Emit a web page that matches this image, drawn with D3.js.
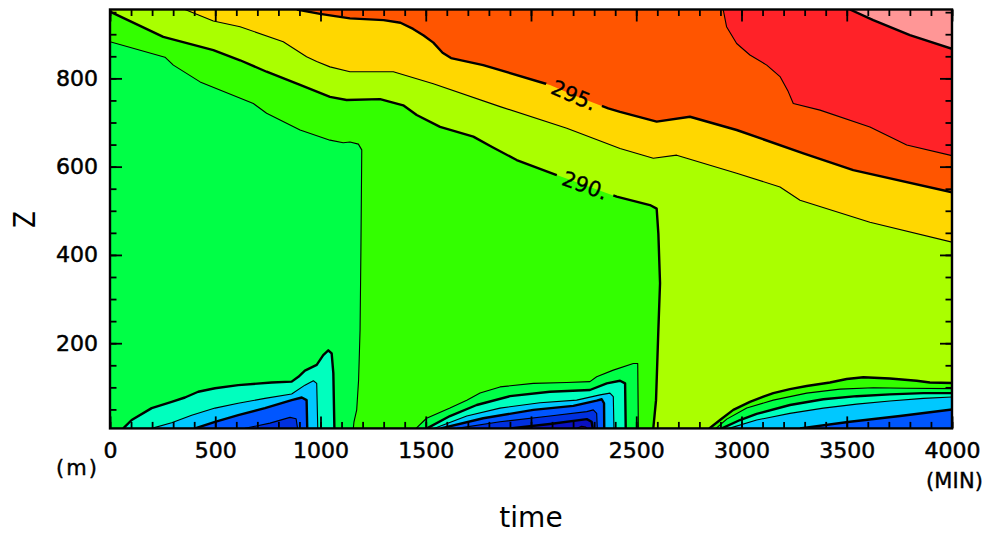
<!DOCTYPE html>
<html>
<head>
<meta charset="utf-8">
<script src="https://cdn.jsdelivr.net/npm/d3@7"></script>
<style>
  body { margin: 0; background: #fff; }
  svg { display: block; }
  text { font-family: "DejaVu Sans", sans-serif; fill: #000; }
</style>
</head>
<body>
<script>
// Potential temperature (K) time–height section, filled contours every 2.5 K.

// ---- axes ----
const TIME_DOMAIN = [0, 4000];          // minutes
const Z_DOMAIN = [7, 956];              // metres
const timeTicks = [0, 500, 1000, 1500, 2000, 2500, 3000, 3500, 4000];
const zTicks = [200, 400, 600, 800];

// ---- contour levels and fill colours (one colour per interval) ----
const levels = [272.5, 275, 277.5, 280, 282.5, 285, 287.5, 290, 292.5, 295, 297.5, 300];
const levelColors = [
  "#7a0096", // < 272.5
  "#0a10c0", // 272.5 - 275
  "#0030e0", // 275 - 277.5
  "#0056ff", // 277.5 - 280
  "#00c8ff", // 280 - 282.5
  "#00ffbe", // 282.5 - 285
  "#00ff46", // 285 - 287.5
  "#33ff00", // 287.5 - 290
  "#aaff00", // 290 - 292.5
  "#ffd700", // 292.5 - 295
  "#ff5500", // 295 - 297.5
  "#ff2228", // 297.5 - 300
  "#ff9696"  // > 300
];

// ---- isolines, [time (min), z (m)] ----
// warm stratification aloft
const theta2875 = [[0,883],[261,848],[301,830],[428,792],[681,743],[744,721],[903,683],[1045,660],[1108,654],[1140,656],[1180,651],[1196,638],[1192,411],[1188,230],[1181,117],[1172,49],[1159,22],[1156,7]];
const theta290 = [[0,951],[253,894],[491,864],[618,841],[744,815],[903,785],[1045,758],[1124,751],[1283,753],[1393,739],[1457,717],[1568,690],[1726,668],[1813,645],[1932,615],[2122,581],[2257,558],[2407,532],[2565,513],[2597,505],[2605,449],[2613,336],[2605,230],[2594,71],[2581,7]];
const theta2925 = [[356,956],[491,930],[618,917],[823,883],[934,849],[982,838],[1045,826],[1140,815],[1346,815],[1536,788],[1853,736],[2170,687],[2423,641],[2581,619],[2692,626],[2977,585],[3183,554],[3278,524],[3610,474],[4000,429]];
const theta295 = [[888,956],[998,946],[1140,936],[1300,932],[1380,926],[1440,912],[1490,897],[1536,881],[1580,858],[1620,846],[1773,830],[2090,785],[2204,762],[2367,732],[2423,724],[2597,702],[2755,713],[2977,683],[3294,630],[3531,592],[4000,542]];
const theta2975 = [[2913,956],[2929,917],[2977,879],[3040,853],[3120,830],[3183,804],[3222,770],[3246,743],[3373,728],[3610,690],[3785,649],[4000,625]];
const theta300 = [[3515,956],[3626,932],[3800,898],[4000,867]];

// first nocturnal cold pool
const pool1_285 = [[63,7],[103,26],[198,53],[293,67],[356,77],[419,90],[499,98],[609,105],[768,111],[863,113],[895,124],[926,138],[982,151],[1013,173],[1037,184],[1053,177],[1061,132],[1066,7]];
const pool1_2825 = [[198,7],[293,20],[388,37],[499,53],[609,64],[736,75],[863,85],[926,105],[966,115],[982,109],[987,7]];
const pool1_280 = [[404,7],[499,22],[609,37],[736,53],[863,71],[911,77],[934,71],[937,7]];
const pool1_2775 = [[641,7],[760,19],[855,32],[884,29],[891,7]];

// second cold pool
const pool2_2875 = [[1454,7],[1504,30],[1615,53],[1695,71],[1758,87],[1853,101],[2011,109],[2170,111],[2280,113],[2312,124],[2391,139],[2486,154],[2507,154],[2510,7]];
const pool2_285 = [[1506,7],[1615,35],[1742,60],[1900,80],[2090,90],[2280,94],[2360,109],[2423,115],[2447,109],[2450,7]];
const pool2_2825 = [[1539,7],[1695,35],[1853,53],[2043,65],[2217,71],[2328,83],[2375,87],[2391,79],[2394,7]];
const pool2_280 = [[1572,7],[1773,30],[2011,49],[2201,58],[2312,70],[2336,73],[2347,64],[2348,7]];
const pool2_2775 = [[1648,7],[1853,22],[2090,35],[2265,45],[2296,49],[2312,41],[2315,7]];
const pool2_275 = [[1900,7],[2090,17],[2265,28],[2288,22],[2293,7]];
const pool2_2725 = [[2217,7],[2240,12],[2260,10],[2265,7]];

// third cold pool (still growing at the end of the run)
const pool3_290 = [[2847,7],[2898,26],[2961,49],[3040,67],[3104,79],[3151,87],[3230,96],[3310,103],[3420,111],[3500,119],[3579,123],[3705,120],[3832,115],[3895,111],[4000,110]];
const pool3_2875 = [[2879,7],[2930,28],[3025,53],[3151,71],[3310,87],[3468,96],[3626,99],[3785,98],[4000,97]];
const pool3_285 = [[2907,7],[2993,26],[3072,40],[3230,60],[3389,73],[3547,80],[3705,84],[3864,87],[4000,87]];
const pool3_2825 = [[2941,7],[3072,26],[3230,41],[3389,53],[3547,62],[3705,69],[3864,75],[4000,78]];
const pool3_280 = [[3278,7],[3515,22],[3753,35],[4000,50]];

// painting order: warm side of each line aloft, then cold side of each pool line
const isolines = [
  { level: 287.5, side: "warm", pts: theta2875 },
  { level: 290,   side: "warm", pts: theta290 },
  { level: 292.5, side: "warm", pts: theta2925 },
  { level: 295,   side: "warm", pts: theta295 },
  { level: 297.5, side: "warm", pts: theta2975 },
  { level: 300,   side: "warm", pts: theta300 },
  { level: 285,   side: "cold", pts: pool1_285 },
  { level: 282.5, side: "cold", pts: pool1_2825 },
  { level: 280,   side: "cold", pts: pool1_280 },
  { level: 277.5, side: "cold", pts: pool1_2775 },
  { level: 287.5, side: "cold", pts: pool2_2875 },
  { level: 285,   side: "cold", pts: pool2_285 },
  { level: 282.5, side: "cold", pts: pool2_2825 },
  { level: 280,   side: "cold", pts: pool2_280 },
  { level: 277.5, side: "cold", pts: pool2_2775 },
  { level: 275,   side: "cold", pts: pool2_275 },
  { level: 272.5, side: "cold", pts: pool2_2725 },
  { level: 290,   side: "cold", pts: pool3_290 },
  { level: 287.5, side: "cold", pts: pool3_2875 },
  { level: 285,   side: "cold", pts: pool3_285 },
  { level: 282.5, side: "cold", pts: pool3_2825 },
  { level: 280,   side: "cold", pts: pool3_280 }
];
const baseLevelIndex = levels.indexOf(285) + 1;   // interval 285 - 287.5 underlies everything

// line labels: level and the time at which the label sits on its line
const lineLabels = [
  { level: 295, time: 2204, pts: theta295 },
  { level: 290, time: 2257, pts: theta290 }
];

// ---- layout ----
const width = 989, height = 533;
const plot = { left: 110, right: 952, top: 9.5, bottom: 428.4 };

const x = d3.scaleLinear().domain(TIME_DOMAIN).range([plot.left, plot.right]);
const y = d3.scaleLinear().domain(Z_DOMAIN).range([plot.bottom, plot.top]);

const svg = d3.select("body").append("svg")
  .attr("width", width).attr("height", height);

const defs = svg.append("defs");
defs.append("clipPath").attr("id", "plotClip")
  .append("rect")
  .attr("x", x(TIME_DOMAIN[0])).attr("y", y(Z_DOMAIN[1]))
  .attr("width", x(TIME_DOMAIN[1]) - x(TIME_DOMAIN[0]))
  .attr("height", y(Z_DOMAIN[0]) - y(Z_DOMAIN[1]));

// close an open isoline along the frame, walking counter-clockwise (z up) from its end to its start
const [t0, t1] = TIME_DOMAIN, [z0, z1] = Z_DOMAIN;
function perimeterPos(p) {
  const u = (p[0] - t0) / (t1 - t0), v = (p[1] - z0) / (z1 - z0);
  const d = [v, 1 - u, 1 - v, u];
  const e = d.indexOf(Math.min(...d));
  if (e === 0) return u;
  if (e === 1) return 1 + v;
  if (e === 2) return 2 + (1 - u);
  return 3 + (1 - v);
}
const frameCorners = [[0, [t0, z0]], [1, [t1, z0]], [2, [t1, z1]], [3, [t0, z1]]];
function closeRing(pts) {
  const sEnd = perimeterPos(pts[pts.length - 1]);
  const sStart = perimeterPos(pts[0]);
  let span = sStart - sEnd;
  if (span <= 0) span += 4;
  const corners = frameCorners
    .map(([s, c]) => { let k = s - sEnd; if (k <= 0) k += 4; return [k, c]; })
    .filter(([k]) => k < span)
    .sort((a, b) => a[0] - b[0]);
  return pts.concat(corners.map(c => c[1]));
}

const line = d3.line().x(d => x(d[0])).y(d => y(d[1]));

// ---- filled bands ----
const fills = svg.append("g").attr("clip-path", "url(#plotClip)");
fills.append("rect")
  .attr("x", x(t0)).attr("y", y(z1))
  .attr("width", x(t1) - x(t0)).attr("height", y(z0) - y(z1))
  .attr("fill", levelColors[baseLevelIndex]);

fills.selectAll("path.band")
  .data(isolines)
  .join("path")
  .attr("class", "band")
  .attr("d", d => {
    const pts = d.side === "warm" ? d.pts : d.pts.slice().reverse();
    return line(closeRing(pts)) + "Z";
  })
  .attr("fill", d => {
    const i = levels.indexOf(d.level);
    return levelColors[d.side === "warm" ? i + 1 : i];
  })
  .attr("stroke", "none");

// ---- label geometry (angle follows the line in screen space) ----
const labelFont = 21;
const labelGeom = lineLabels.map(lb => {
  const p = lb.pts;
  let k = 0;
  while (k < p.length - 2 && p[k + 1][0] < lb.time) k++;
  const a = p[k], b = p[k + 1];
  const f = (lb.time - a[0]) / (b[0] - a[0]);
  const zt = a[1] + f * (b[1] - a[1]);
  const ang = Math.atan2(y(b[1]) - y(a[1]), x(b[0]) - x(a[0])) * 180 / Math.PI;
  return { text: `${lb.level}.`, cx: x(lb.time), cy: y(zt), ang };
});

const mask = defs.append("mask").attr("id", "labelGaps")
  .attr("maskUnits", "userSpaceOnUse")
  .attr("x", 0).attr("y", 0).attr("width", width).attr("height", height);
mask.append("rect").attr("width", width).attr("height", height).attr("fill", "#fff");
mask.selectAll("rect.gap").data(labelGeom).join("rect")
  .attr("class", "gap")
  .attr("x", -30).attr("y", -10).attr("width", 60).attr("height", 20)
  .attr("fill", "#000")
  .attr("transform", d => `translate(${d.cx},${d.cy}) rotate(${d.ang})`);

// ---- contour lines ----
const strokes = svg.append("g").attr("clip-path", "url(#plotClip)")
  .append("g").attr("mask", "url(#labelGaps)");
strokes.selectAll("path")
  .data(isolines)
  .join("path")
  .attr("d", d => line(d.pts))
  .attr("fill", "none")
  .attr("stroke", "#000")
  .attr("stroke-linejoin", "round")
  .attr("stroke-width", d => (d.level % 5 === 0 ? 2.4 : 1.1));

svg.append("g").selectAll("text")
  .data(labelGeom).join("text")
  .attr("transform", d => `translate(${d.cx},${d.cy}) rotate(${d.ang})`)
  .attr("text-anchor", "middle")
  .attr("dy", "0.36em")
  .attr("font-size", labelFont)
  .attr("stroke", "#000").attr("stroke-width", 0.35)
  .text(d => d.text);

// ---- axes: ticks point inward on all four sides ----
const axisStyle = g => {
  g.select(".domain").remove();
  g.selectAll(".tick line").attr("stroke", "#000").attr("stroke-width", 1.8);
  g.selectAll(".tick text")
    .attr("font-size", 22).attr("font-family", "DejaVu Sans, sans-serif")
    .attr("stroke", "#000").attr("stroke-width", 0.5);
};
const timeMinor = d3.range(TIME_DOMAIN[0], TIME_DOMAIN[1] + 1, 100);
const zMinor = d3.range(50, Z_DOMAIN[1], 50);
const majorLen = 12, minorLen = 6.5;

svg.append("g").attr("transform", `translate(0,${plot.bottom})`)
  .call(d3.axisBottom(x).tickValues(timeMinor).tickSize(-minorLen).tickFormat(""))
  .call(axisStyle);
svg.append("g").attr("transform", `translate(0,${plot.bottom})`)
  .call(d3.axisBottom(x).tickValues(timeTicks).tickSize(-majorLen).tickPadding(14).tickFormat(d3.format("d")))
  .call(axisStyle);
svg.append("g").attr("transform", `translate(0,${plot.top})`)
  .call(d3.axisTop(x).tickValues(timeMinor).tickSize(-minorLen).tickFormat(""))
  .call(axisStyle);
svg.append("g").attr("transform", `translate(0,${plot.top})`)
  .call(d3.axisTop(x).tickValues(timeTicks).tickSize(-majorLen).tickFormat(""))
  .call(axisStyle);

svg.append("g").attr("transform", `translate(${plot.left},0)`)
  .call(d3.axisLeft(y).tickValues(zMinor).tickSize(-minorLen).tickFormat(""))
  .call(axisStyle);
svg.append("g").attr("transform", `translate(${plot.left},0)`)
  .call(d3.axisLeft(y).tickValues(zTicks).tickSize(-majorLen).tickPadding(12).tickFormat(d3.format("d")))
  .call(axisStyle);
svg.append("g").attr("transform", `translate(${plot.right},0)`)
  .call(d3.axisRight(y).tickValues(zMinor).tickSize(-minorLen).tickFormat(""))
  .call(axisStyle);
svg.append("g").attr("transform", `translate(${plot.right},0)`)
  .call(d3.axisRight(y).tickValues(zTicks).tickSize(-majorLen).tickFormat(""))
  .call(axisStyle);

// frame
svg.append("rect")
  .attr("x", plot.left).attr("y", plot.top)
  .attr("width", plot.right - plot.left).attr("height", plot.bottom - plot.top)
  .attr("fill", "none").attr("stroke", "#000").attr("stroke-width", 2.4);

// ---- titles and units ----
svg.append("text")
  .attr("x", (plot.left + plot.right) / 2).attr("y", 527)
  .attr("text-anchor", "middle").attr("font-size", 28)
  .text("time");

svg.append("text")
  .attr("transform", "translate(24,219.5) rotate(-90) scale(0.78,1)")
  .attr("text-anchor", "middle").attr("dy", "0.36em").attr("font-size", 31)
  .text("Z");

svg.append("text")
  .attr("x", 56).attr("y", 475).attr("font-size", 21)
  .attr("textLength", 41).attr("lengthAdjust", "spacing")
  .attr("stroke", "#000").attr("stroke-width", 0.4)
  .text("(m)");

svg.append("text")
  .attr("x", 926).attr("y", 488).attr("font-size", 21)
  .attr("textLength", 57).attr("lengthAdjust", "spacing")
  .attr("stroke", "#000").attr("stroke-width", 0.4)
  .text("(MIN)");
</script>
</body>
</html>
